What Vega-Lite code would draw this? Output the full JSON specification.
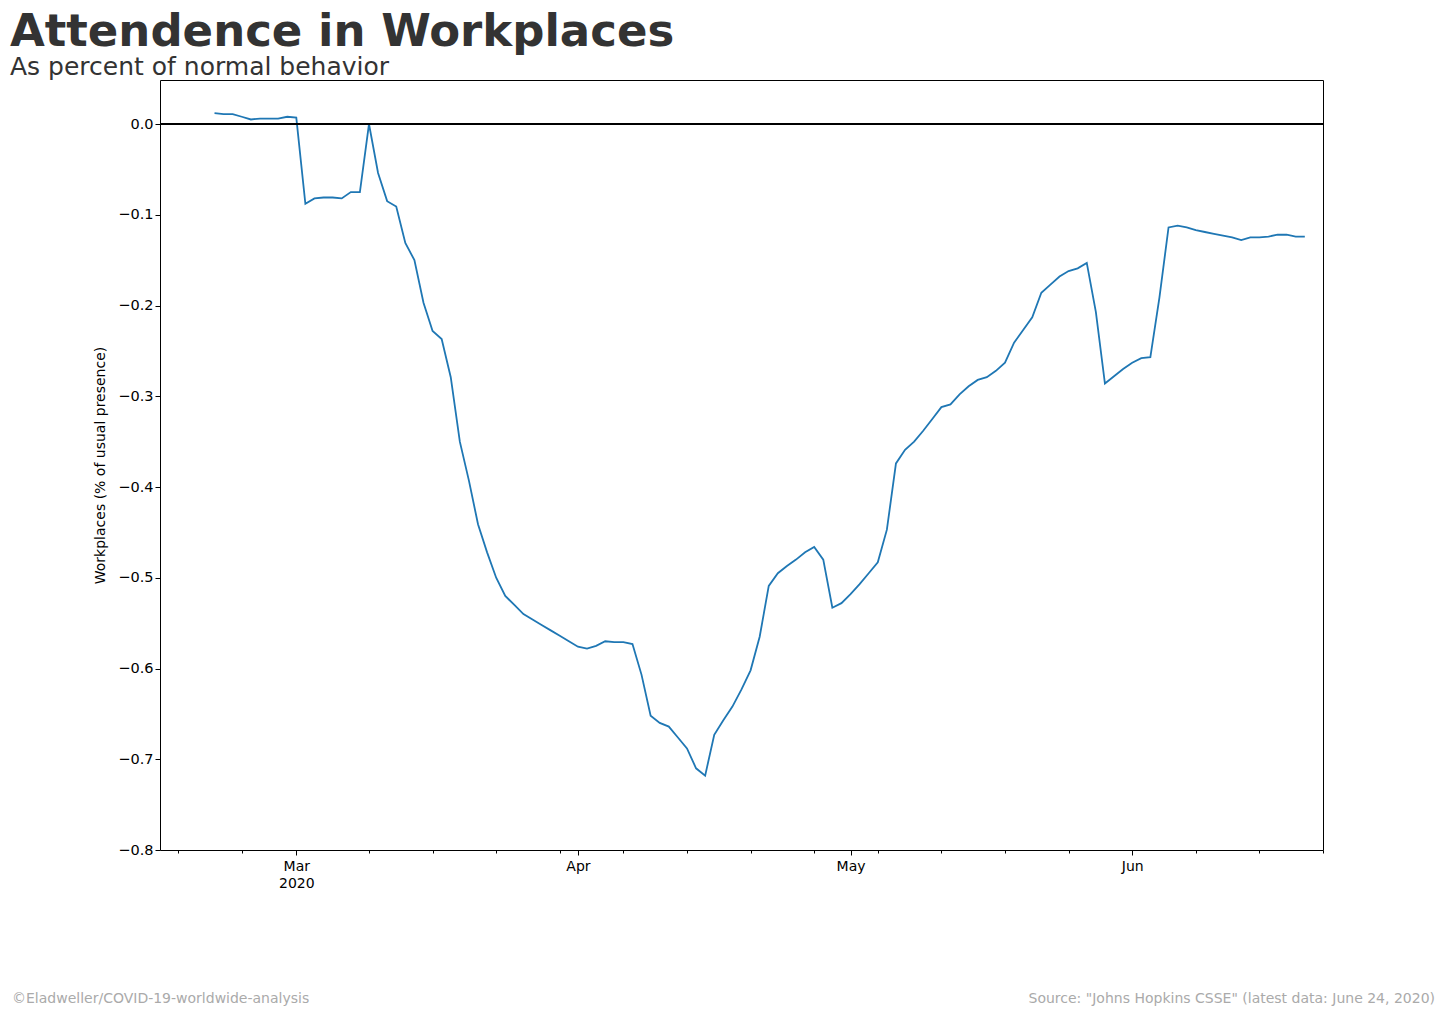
{
"$schema":"https://vega.github.io/schema/vega-lite/v6.json",
"width":1163,"height":770,
"autosize":{"type":"none"},
"padding":{"left":160,"top":80,"right":122,"bottom":167},
"background":"white",
"config":{"view":{"stroke":"black","strokeWidth":1},"font":"DejaVu Sans"},
"title":{"text":"Attendence in Workplaces","subtitle":"As percent of normal behavior","anchor":"start","frame":"group","dx":-150,"offset":0,"fontSize":45,"fontWeight":"bold","color":"#333333","subtitleFontSize":25,"subtitleColor":"#333333","subtitlePadding":0,"font":"DejaVu Sans","subtitleFont":"DejaVu Sans"},
"resolve":{"axis":{"x":"independent"}},
"data":{"values":[
{"d":"2020-02-21T00:00:00","v":0.012},{"d":"2020-02-22T00:00:00","v":0.011},{"d":"2020-02-23T00:00:00","v":0.011},{"d":"2020-02-24T00:00:00","v":0.008},{"d":"2020-02-25T00:00:00","v":0.005},{"d":"2020-02-26T00:00:00","v":0.006},{"d":"2020-02-27T00:00:00","v":0.006},{"d":"2020-02-28T00:00:00","v":0.006},{"d":"2020-02-29T00:00:00","v":0.008},{"d":"2020-03-01T00:00:00","v":0.007},
{"d":"2020-03-02T00:00:00","v":-0.088},{"d":"2020-03-03T00:00:00","v":-0.082},{"d":"2020-03-04T00:00:00","v":-0.081},{"d":"2020-03-05T00:00:00","v":-0.081},{"d":"2020-03-06T00:00:00","v":-0.082},{"d":"2020-03-07T00:00:00","v":-0.075},{"d":"2020-03-08T00:00:00","v":-0.075},{"d":"2020-03-09T00:00:00","v":0.0},{"d":"2020-03-10T00:00:00","v":-0.054},{"d":"2020-03-11T00:00:00","v":-0.085},{"d":"2020-03-12T00:00:00","v":-0.091},{"d":"2020-03-13T00:00:00","v":-0.131},{"d":"2020-03-14T00:00:00","v":-0.150},{"d":"2020-03-15T00:00:00","v":-0.197},{"d":"2020-03-16T00:00:00","v":-0.228},{"d":"2020-03-17T00:00:00","v":-0.237},{"d":"2020-03-18T00:00:00","v":-0.279},{"d":"2020-03-19T00:00:00","v":-0.350},{"d":"2020-03-20T00:00:00","v":-0.393},{"d":"2020-03-21T00:00:00","v":-0.441},{"d":"2020-03-22T00:00:00","v":-0.472},{"d":"2020-03-23T00:00:00","v":-0.500},{"d":"2020-03-24T00:00:00","v":-0.520},{"d":"2020-03-25T00:00:00","v":-0.530},{"d":"2020-03-26T00:00:00","v":-0.540},{"d":"2020-03-27T00:00:00","v":-0.546},{"d":"2020-03-28T00:00:00","v":-0.552},{"d":"2020-03-29T00:00:00","v":-0.558},{"d":"2020-03-30T00:00:00","v":-0.564},{"d":"2020-03-31T00:00:00","v":-0.570},
{"d":"2020-04-01T00:00:00","v":-0.576},{"d":"2020-04-02T00:00:00","v":-0.578},{"d":"2020-04-03T00:00:00","v":-0.575},{"d":"2020-04-04T00:00:00","v":-0.570},{"d":"2020-04-05T00:00:00","v":-0.571},{"d":"2020-04-06T00:00:00","v":-0.571},{"d":"2020-04-07T00:00:00","v":-0.573},{"d":"2020-04-08T00:00:00","v":-0.607},{"d":"2020-04-09T00:00:00","v":-0.652},{"d":"2020-04-10T00:00:00","v":-0.660},{"d":"2020-04-11T00:00:00","v":-0.664},{"d":"2020-04-12T00:00:00","v":-0.676},{"d":"2020-04-13T00:00:00","v":-0.688},{"d":"2020-04-14T00:00:00","v":-0.710},{"d":"2020-04-15T00:00:00","v":-0.718},{"d":"2020-04-16T00:00:00","v":-0.673},{"d":"2020-04-17T00:00:00","v":-0.657},{"d":"2020-04-18T00:00:00","v":-0.642},{"d":"2020-04-19T00:00:00","v":-0.623},{"d":"2020-04-20T00:00:00","v":-0.602},{"d":"2020-04-21T00:00:00","v":-0.565},{"d":"2020-04-22T00:00:00","v":-0.509},{"d":"2020-04-23T00:00:00","v":-0.495},{"d":"2020-04-24T00:00:00","v":-0.487},{"d":"2020-04-25T00:00:00","v":-0.480},{"d":"2020-04-26T00:00:00","v":-0.472},{"d":"2020-04-27T00:00:00","v":-0.466},{"d":"2020-04-28T00:00:00","v":-0.480},{"d":"2020-04-29T00:00:00","v":-0.533},{"d":"2020-04-30T00:00:00","v":-0.528},
{"d":"2020-05-01T00:00:00","v":-0.518},{"d":"2020-05-02T00:00:00","v":-0.507},{"d":"2020-05-03T00:00:00","v":-0.495},{"d":"2020-05-04T00:00:00","v":-0.483},{"d":"2020-05-05T00:00:00","v":-0.447},{"d":"2020-05-06T00:00:00","v":-0.374},{"d":"2020-05-07T00:00:00","v":-0.359},{"d":"2020-05-08T00:00:00","v":-0.350},{"d":"2020-05-09T00:00:00","v":-0.338},{"d":"2020-05-10T00:00:00","v":-0.325},{"d":"2020-05-11T00:00:00","v":-0.312},{"d":"2020-05-12T00:00:00","v":-0.309},{"d":"2020-05-13T00:00:00","v":-0.298},{"d":"2020-05-14T00:00:00","v":-0.289},{"d":"2020-05-15T00:00:00","v":-0.282},{"d":"2020-05-16T00:00:00","v":-0.279},{"d":"2020-05-17T00:00:00","v":-0.272},{"d":"2020-05-18T00:00:00","v":-0.263},{"d":"2020-05-19T00:00:00","v":-0.241},{"d":"2020-05-20T00:00:00","v":-0.227},{"d":"2020-05-21T00:00:00","v":-0.213},{"d":"2020-05-22T00:00:00","v":-0.186},{"d":"2020-05-23T00:00:00","v":-0.177},{"d":"2020-05-24T00:00:00","v":-0.168},{"d":"2020-05-25T00:00:00","v":-0.162},{"d":"2020-05-26T00:00:00","v":-0.159},{"d":"2020-05-27T00:00:00","v":-0.153},{"d":"2020-05-28T00:00:00","v":-0.207},{"d":"2020-05-29T00:00:00","v":-0.286},{"d":"2020-05-30T00:00:00","v":-0.278},{"d":"2020-05-31T00:00:00","v":-0.270},
{"d":"2020-06-01T00:00:00","v":-0.263},{"d":"2020-06-02T00:00:00","v":-0.258},{"d":"2020-06-03T00:00:00","v":-0.257},{"d":"2020-06-04T00:00:00","v":-0.191},{"d":"2020-06-05T00:00:00","v":-0.114},{"d":"2020-06-06T00:00:00","v":-0.112},{"d":"2020-06-07T00:00:00","v":-0.114},{"d":"2020-06-08T00:00:00","v":-0.117},{"d":"2020-06-09T00:00:00","v":-0.119},{"d":"2020-06-10T00:00:00","v":-0.121},{"d":"2020-06-11T00:00:00","v":-0.123},{"d":"2020-06-12T00:00:00","v":-0.125},{"d":"2020-06-13T00:00:00","v":-0.128},{"d":"2020-06-14T00:00:00","v":-0.125},{"d":"2020-06-15T00:00:00","v":-0.125},{"d":"2020-06-16T00:00:00","v":-0.124},{"d":"2020-06-17T00:00:00","v":-0.122},{"d":"2020-06-18T00:00:00","v":-0.122},{"d":"2020-06-19T00:00:00","v":-0.124},{"d":"2020-06-20T00:00:00","v":-0.124}
]},
"layer":[
{"mark":{"type":"line","color":"#1f77b4","strokeWidth":1.8,"clip":true},
 "encoding":{
  "x":{"field":"d","type":"temporal","scale":{"domain":[{"year":2020,"month":2,"date":15},{"year":2020,"month":6,"date":22}]},
   "axis":{"title":null,"grid":false,"domain":false,"values":[{"year":2020,"month":3,"date":1},{"year":2020,"month":4,"date":1},{"year":2020,"month":5,"date":1},{"year":2020,"month":6,"date":1}],"labelExpr":"month(datum.value)==2 ? ['Mar','2020'] : timeFormat(datum.value,'%b')","labelFontSize":14,"labelColor":"black","tickColor":"black","tickSize":5,"labelPadding":4,"labelFont":"DejaVu Sans","labelLineHeight":17}},
  "y":{"field":"v","type":"quantitative","scale":{"domain":[-0.8,0.0485],"nice":false,"zero":false},
   "axis":{"title":"Workplaces (% of usual presence)","titleFontSize":14,"titleFontWeight":"normal","titleColor":"black","titlePadding":10,"grid":false,"domain":false,"values":[-0.8,-0.7,-0.6,-0.5,-0.4,-0.3,-0.2,-0.1,0],"format":".1f","labelFontSize":14.5,"labelColor":"black","tickColor":"black","tickSize":5,"labelFont":"DejaVu Sans","titleFont":"DejaVu Sans"}}
 }},
{"mark":{"type":"rule","color":"black","strokeWidth":1.2},"encoding":{"y":{"datum":0}}},
{"mark":{"type":"rule","opacity":0},"encoding":{
  "x":{"field":"d","type":"temporal","axis":{"orient":"bottom","title":null,"grid":false,"domain":false,"labels":false,"tickSize":3,"tickColor":"black","values":[{"year":2020,"month":2,"date":17},{"year":2020,"month":2,"date":24},{"year":2020,"month":3,"date":9},{"year":2020,"month":3,"date":16},{"year":2020,"month":3,"date":23},{"year":2020,"month":3,"date":30},{"year":2020,"month":4,"date":6},{"year":2020,"month":4,"date":13},{"year":2020,"month":4,"date":20},{"year":2020,"month":4,"date":27},{"year":2020,"month":5,"date":4},{"year":2020,"month":5,"date":11},{"year":2020,"month":5,"date":18},{"year":2020,"month":5,"date":25},{"year":2020,"month":6,"date":8},{"year":2020,"month":6,"date":15},{"year":2020,"month":6,"date":22}]}}}},
{"data":{"values":[{"t":"©Eladweller/COVID-19-worldwide-analysis"}]},"mark":{"type":"text","align":"left","baseline":"middle","fontSize":14,"color":"#aaaaaa","font":"DejaVu Sans"},"encoding":{"text":{"field":"t"},"x":{"value":-148},"y":{"value":919}}},
{"data":{"values":[{"t":"Source: \"Johns Hopkins CSSE\" (latest data: June 24, 2020)"}]},"mark":{"type":"text","align":"right","baseline":"middle","fontSize":14,"color":"#aaaaaa","font":"DejaVu Sans"},"encoding":{"text":{"field":"t"},"x":{"value":1275},"y":{"value":919}}}
]
}
